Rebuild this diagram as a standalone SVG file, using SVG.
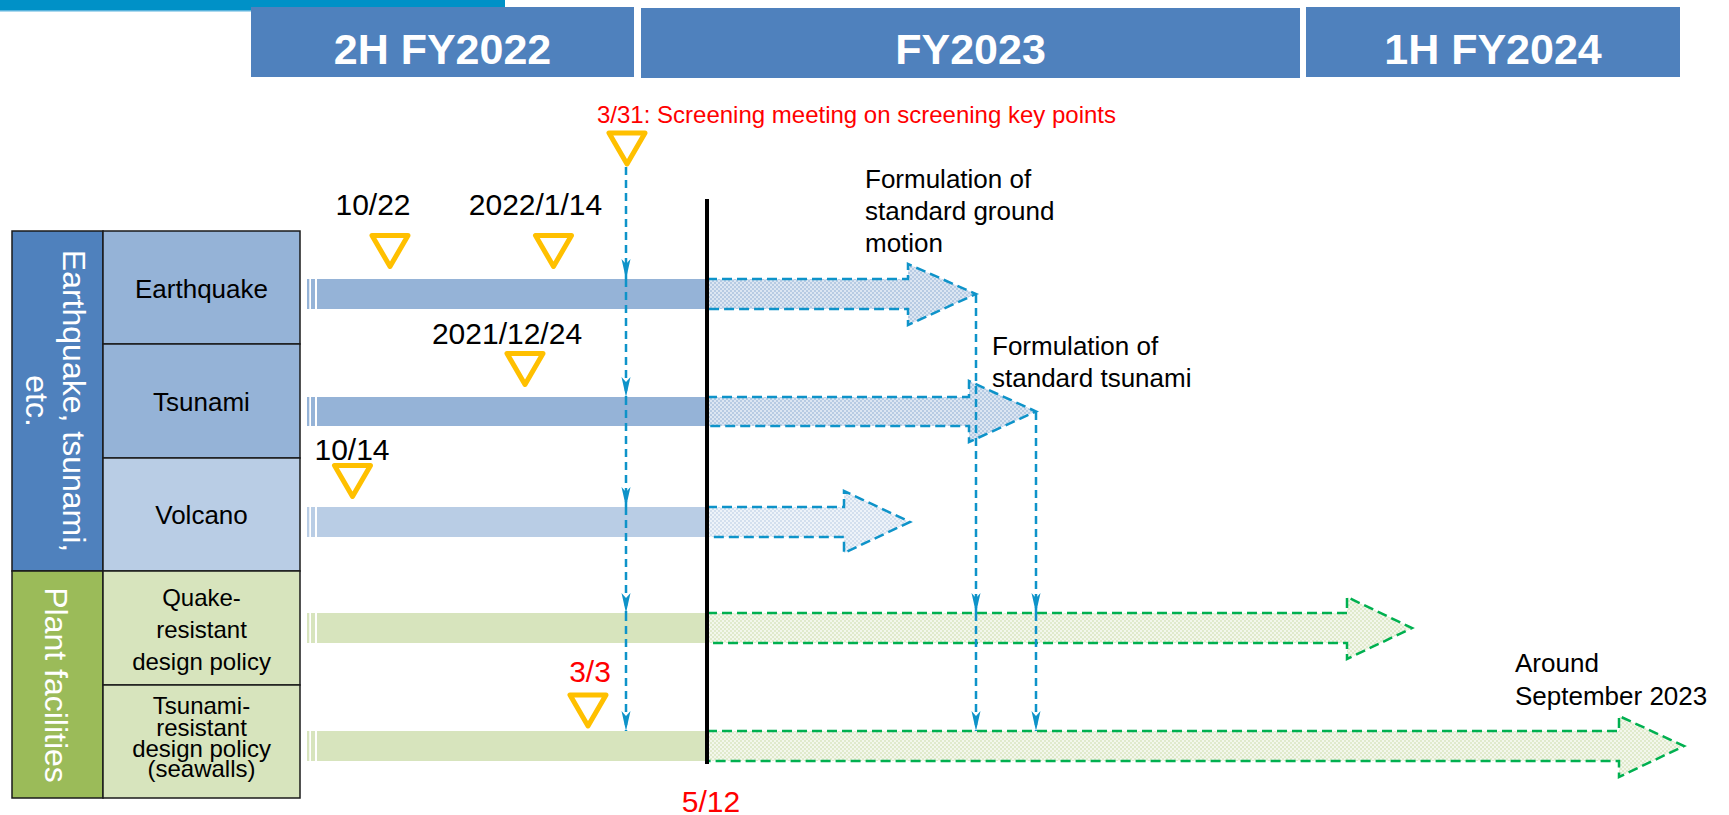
<svg xmlns="http://www.w3.org/2000/svg" width="1729" height="815" viewBox="0 0 1729 815">
<style>
.hdr{fill:#4F81BD}
.htxt{font-family:"Liberation Sans",Arial,sans-serif;font-weight:bold;font-size:43px;fill:#fff;text-anchor:middle}
.cell{stroke:#1a1a1a;stroke-width:1.5}
.ctxt{font-family:"Liberation Sans",Arial,sans-serif;fill:#000;text-anchor:middle}
.vtxt{font-family:"Liberation Sans",Arial,sans-serif;font-size:32px;fill:#fff;text-anchor:middle}
.lbl{font-family:"Liberation Sans",Arial,sans-serif;font-size:26px;fill:#000}
.date{font-family:"Liberation Sans",Arial,sans-serif;font-size:30px;fill:#000;text-anchor:middle}
.red{fill:#FF0000}
.tri{fill:none;stroke:#FFC000;stroke-width:5;stroke-linejoin:round}
.barB{fill:#95B3D7}
.barL{fill:#B9CDE5}
.barG{fill:#D7E4BD}
.arrB{stroke:#0E93C9;stroke-width:2.5;stroke-dasharray:10 5}
.arrG{stroke:#00B050;stroke-width:2.5;stroke-dasharray:10 5}
.conn{fill:none;stroke:#0E93C9;stroke-width:2.5;stroke-dasharray:8 5}
</style>
<defs>
<pattern id="patB" width="4" height="4" patternUnits="userSpaceOnUse">
<rect width="4" height="4" fill="#DCE6F2"/><rect width="2" height="2" fill="#B7CBE3"/><rect x="2" y="2" width="2" height="2" fill="#B7CBE3"/>
</pattern>
<pattern id="patL" width="4" height="4" patternUnits="userSpaceOnUse">
<rect width="4" height="4" fill="#EEF3F9"/><rect width="2" height="2" fill="#D3DFEE"/><rect x="2" y="2" width="2" height="2" fill="#D3DFEE"/>
</pattern>
<pattern id="patG" width="4" height="4" patternUnits="userSpaceOnUse">
<rect width="4" height="4" fill="#F3F7EC"/><rect width="2" height="2" fill="#E0EACC"/><rect x="2" y="2" width="2" height="2" fill="#E0EACC"/>
</pattern>
<marker id="ah" markerUnits="userSpaceOnUse" viewBox="-20 -5 20 10" refX="0" refY="0" markerWidth="20" markerHeight="10" orient="auto">
<path d="M0,0 L-20,-4.5 L-15,0 L-20,4.5 Z" fill="#0E93C9"/>
</marker>
<path id="triangle" d="M-18,0 L18,0 L0,31 Z"/>
</defs>

<rect width="1729" height="815" fill="#fff"/>

<!-- top bar -->
<rect x="0" y="0" width="505" height="10" fill="#0091C7"/>
<rect x="0" y="10" width="505" height="1.5" fill="#5AB4DD"/>

<!-- headers -->
<g id="hdr-2h-fy2022"><rect class="hdr" x="251" y="7" width="383" height="70"/><text class="htxt" x="442.5" y="64">2H FY2022</text></g>
<g id="hdr-fy2023"><rect class="hdr" x="641" y="8" width="659" height="70"/><text class="htxt" x="970.5" y="64">FY2023</text></g>
<g id="hdr-1h-fy2024"><rect class="hdr" x="1306" y="7" width="374" height="70"/><text class="htxt" x="1493" y="64">1H FY2024</text></g>

<!-- left table -->
<g id="grp-natural">
<rect class="cell" x="12" y="231" width="91" height="340" fill="#4F81BD"/>
<text class="vtxt" transform="translate(63,401) rotate(90)"><tspan x="0" y="0">Earthquake, tsunami,</tspan><tspan x="0" y="37">etc.</tspan></text>
</g>
<g id="grp-plant">
<rect class="cell" x="12" y="571" width="91" height="227" fill="#9BBB59"/>
<text class="vtxt" transform="translate(45,685) rotate(90)">Plant facilities</text>
</g>
<g id="row-earthquake">
<rect class="cell" x="103" y="231" width="197" height="113" fill="#95B3D7"/>
<text class="ctxt" x="201.5" y="298" font-size="26">Earthquake</text>
</g>
<g id="row-tsunami">
<rect class="cell" x="103" y="344" width="197" height="114" fill="#95B3D7"/>
<text class="ctxt" x="201.5" y="411" font-size="26">Tsunami</text>
</g>
<g id="row-volcano">
<rect class="cell" x="103" y="458" width="197" height="113" fill="#B9CDE5"/>
<text class="ctxt" x="201.5" y="524" font-size="26">Volcano</text>
</g>
<g id="row-quake-design">
<rect class="cell" x="103" y="571" width="197" height="114" fill="#D7E4BD"/>
<text class="ctxt" font-size="24"><tspan x="201.5" y="606">Quake-</tspan><tspan x="201.5" y="638">resistant</tspan><tspan x="201.5" y="670">design policy</tspan></text>
</g>
<g id="row-tsunami-design">
<rect class="cell" x="103" y="685" width="197" height="113" fill="#D7E4BD"/>
<text class="ctxt" font-size="24"><tspan x="201.5" y="714">Tsunami-</tspan><tspan x="201.5" y="736">resistant</tspan><tspan x="201.5" y="757">design policy</tspan><tspan x="201.5" y="777">(seawalls)</tspan></text>
</g>

<!-- bars (done part) -->
<g id="bar-earthquake" class="barB"><rect x="307" y="279" width="2.3" height="30"/><rect x="311" y="279" width="4" height="30"/><rect x="317" y="279" width="390" height="30"/></g>
<g id="bar-tsunami" class="barB"><rect x="307" y="397" width="2.3" height="29"/><rect x="311" y="397" width="4" height="29"/><rect x="317" y="397" width="390" height="29"/></g>
<g id="bar-volcano" class="barL"><rect x="307" y="507" width="2.3" height="30"/><rect x="311" y="507" width="4" height="30"/><rect x="317" y="507" width="390" height="30"/></g>
<g id="bar-quake-design" class="barG"><rect x="307" y="613" width="2.3" height="30"/><rect x="311" y="613" width="4" height="30"/><rect x="317" y="613" width="390" height="30"/></g>
<g id="bar-tsunami-design" class="barG"><rect x="307" y="731" width="2.3" height="30"/><rect x="311" y="731" width="4" height="30"/><rect x="317" y="731" width="390" height="30"/></g>

<!-- planned arrows -->
<g id="arrow-earthquake"><path class="arrB" fill="url(#patB)" d="M707,279 L908,279 L908,264 L976,294 L908,325 L908,309 L707,309 Z"/></g>
<g id="arrow-tsunami"><path class="arrB" fill="url(#patB)" d="M707,397 L969,397 L969,381 L1036,411.5 L969,442 L969,426 L707,426 Z"/></g>
<g id="arrow-volcano"><path class="arrB" fill="url(#patL)" d="M707,507 L844,507 L844,491 L910,522 L844,553 L844,537 L707,537 Z"/></g>
<g id="arrow-quake-design"><path class="arrG" fill="url(#patG)" d="M707,613 L1347,613 L1347,597 L1412,628 L1347,659 L1347,643 L707,643 Z"/></g>
<g id="arrow-tsunami-design"><path class="arrG" fill="url(#patG)" d="M707,731 L1619,731 L1619,716 L1684,746 L1619,777 L1619,761 L707,761 Z"/></g>

<!-- 5/12 line -->
<g id="line-512">
<line x1="707" y1="199" x2="707" y2="764" stroke="#000" stroke-width="4"/>
<text class="date red" x="711" y="812" font-size="31">5/12</text>
</g>

<!-- connectors -->
<g id="connectors">
<path class="conn" marker-end="url(#ah)" d="M626,167 L626,279"/>
<path class="conn" marker-end="url(#ah)" d="M626,279 L626,397"/>
<path class="conn" marker-end="url(#ah)" d="M626,397 L626,507"/>
<path class="conn" marker-end="url(#ah)" d="M626,507 L626,613"/>
<path class="conn" marker-end="url(#ah)" d="M626,613 L626,731"/>
<path class="conn" marker-end="url(#ah)" d="M976,295 L976,613"/>
<path class="conn" marker-end="url(#ah)" d="M976,613 L976,731"/>
<path class="conn" marker-end="url(#ah)" d="M1036,412 L1036,613"/>
<path class="conn" marker-end="url(#ah)" d="M1036,613 L1036,731"/>
</g>

<!-- milestones -->
<g id="ms-331">
<use href="#triangle" class="tri" transform="translate(627,133)"/>
<text x="597" y="123" font-family="Liberation Sans, Arial, sans-serif" font-size="24" class="red">3/31: Screening meeting on screening key points</text>
</g>
<g id="ms-1022">
<use href="#triangle" class="tri" transform="translate(390,235.5)"/>
<text class="date" x="373" y="215">10/22</text>
</g>
<g id="ms-20220114">
<use href="#triangle" class="tri" transform="translate(553.5,235.5)"/>
<text class="date" x="535.5" y="215">2022/1/14</text>
</g>
<g id="ms-20211224">
<use href="#triangle" class="tri" transform="translate(525,353.5)"/>
<text class="date" x="507" y="344">2021/12/24</text>
</g>
<g id="ms-1014">
<use href="#triangle" class="tri" transform="translate(352.5,465.5)"/>
<text class="date" x="352" y="460">10/14</text>
</g>
<g id="ms-33">
<use href="#triangle" class="tri" transform="translate(588,695)"/>
<text class="date red" x="590" y="682">3/3</text>
</g>

<!-- notes -->
<g id="note-ground-motion"><text class="lbl"><tspan x="865" y="188">Formulation of</tspan><tspan x="865" y="220">standard ground</tspan><tspan x="865" y="252">motion</tspan></text></g>
<g id="note-std-tsunami"><text class="lbl"><tspan x="992" y="355">Formulation of</tspan><tspan x="992" y="387">standard tsunami</tspan></text></g>
<g id="note-sept2023"><text class="lbl"><tspan x="1515" y="672">Around</tspan><tspan x="1515" y="705">September 2023</tspan></text></g>
</svg>
